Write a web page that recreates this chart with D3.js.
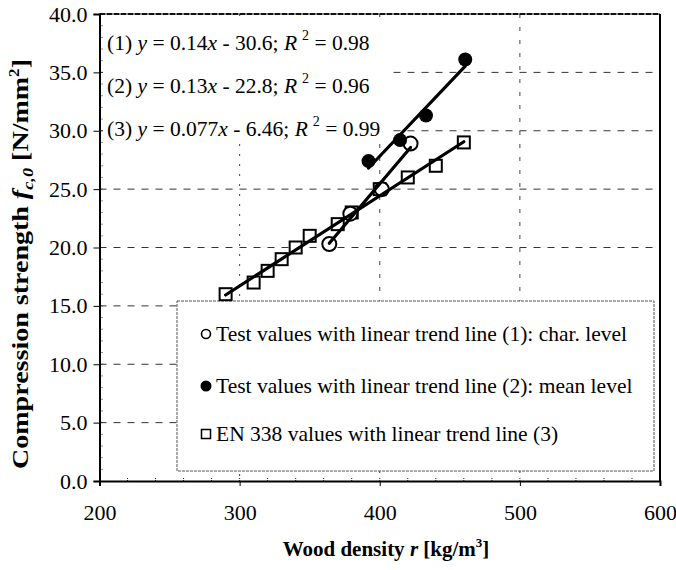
<!DOCTYPE html>
<html><head><meta charset="utf-8">
<script src="https://cdn.jsdelivr.net/npm/d3@7"></script>
<style>body{margin:0;background:#fff}svg{display:block}text{font-family:"Liberation Serif","Times New Roman",serif;fill:#000}</style>
</head><body><svg id="c" width="676" height="570"></svg>
<script>
// ---- data ----
const charX = [364, 379, 401.5, 422];
const charY = [20.3, 22.9, 25.0, 28.9];
const meanX = [392, 414.5, 433, 461];
const meanY = [27.4, 29.2, 31.3, 36.1];
const enX = [290, 310, 320, 330, 340, 350, 370, 380, 400, 420, 440, 460];
const enY = [16, 17, 18, 19, 20, 21, 22, 23, 25, 26, 27, 29];
const xTicks = [200, 300, 400, 500, 600];
const yTicks = [0, 5, 10, 15, 20, 25, 30, 35, 40];
const equations = [
  ["(1) ", "y", " = 0.14", "x", " - 30.6; ", "R", "2", " = 0.98"],
  ["(2) ", "y", " = 0.13", "x", " - 22.8; ", "R", "2", " = 0.96"],
  ["(3) ", "y", " = 0.077", "x", " - 6.46; ", "R", "2", " = 0.99"]
];
const legendLabels = [
  "Test values with linear trend line (1): char. level",
  "Test values with linear trend line (2): mean level",
  "EN 338 values with linear trend line (3)"
];

const svg = d3.select("#c");
const L = 99.5, R = 660, T = 14, B = 481;
const x = d3.scaleLinear().domain([200, 600]).range([L, R]);
const y = d3.scaleLinear().domain([0, 40]).range([B, T]);

// grid
const g = svg.append("g");
g.selectAll(".hg").data(yTicks.filter(d => d > 0 && d < 40)).join("line")
  .attr("x1", L).attr("x2", R).attr("y1", d => y(d)).attr("y2", d => y(d))
  .attr("stroke", "#333").attr("stroke-width", 1).attr("stroke-dasharray", "7,7");
g.selectAll(".vg").data([300, 400, 500]).join("line")
  .attr("y1", T).attr("y2", B).attr("x1", d => x(d)).attr("x2", d => x(d))
  .attr("stroke", "#444").attr("stroke-width", 1).attr("stroke-dasharray", d => d === 300 ? "2,8" : "4,9");

// minor ticks
svg.append("g").selectAll("line").data(d3.range(1, 40)).join("line")
  .attr("x1", L).attr("x2", L + 4).attr("y1", d => y(d)).attr("y2", d => y(d))
  .attr("stroke", "#222").attr("stroke-width", 1).attr("stroke-dasharray", "1,1");
svg.append("g").selectAll("line").data(d3.range(220, 600, 20)).join("line")
  .attr("y1", B).attr("y2", B - 4).attr("x1", d => x(d)).attr("x2", d => x(d))
  .attr("stroke", "#222").attr("stroke-width", 1).attr("stroke-dasharray", "1,1");

// equation text box (white background hides grid)
svg.append("rect").attr("x", 103).attr("y", 17).attr("width", 287).attr("height", 124).attr("fill", "#fff");

// legend box (white, behind data)
const lg = svg.append("g");
lg.append("rect").attr("x", 177).attr("y", 301).attr("width", 477).attr("height", 170)
  .attr("fill", "#fff").attr("stroke", "#555").attr("stroke-width", 1).attr("stroke-dasharray", "3,1");

// frame
svg.append("line").attr("x1", L).attr("x2", R).attr("y1", T).attr("y2", T).attr("stroke", "#111").attr("stroke-width", 2).attr("stroke-dasharray", "6,1");
svg.append("line").attr("x1", R).attr("x2", R).attr("y1", T).attr("y2", B).attr("stroke", "#000").attr("stroke-width", 2);

// axes
const yAxis = svg.append("g").attr("transform", `translate(${L},0)`)
  .call(d3.axisLeft(y).tickValues(yTicks).tickFormat(d3.format(".1f")).tickSize(6).tickPadding(6));
const xAxis = svg.append("g").attr("transform", `translate(0,${B})`)
  .call(d3.axisBottom(x).tickValues(xTicks).tickSize(5).tickPadding(18));
[yAxis, xAxis].forEach(a => {
  a.select(".domain").attr("stroke", "#000").attr("stroke-width", 2);
  a.selectAll(".tick line").attr("stroke", "#000").attr("stroke-width", 1);
  a.selectAll("text").attr("font-family", "Liberation Serif").attr("font-size", 22).attr("fill", "#000");
});

// markers
function zip(a, b) { return a.map((v, i) => [v, b[i]]); }
const enPts = zip(enX, enY), charPts = zip(charX, charY), meanPts = zip(meanX, meanY);

svg.append("g").selectAll("rect").data(enPts).join("rect")
  .attr("x", d => x(d[0]) - 6).attr("y", d => y(d[1]) - 6).attr("width", 12).attr("height", 12)
  .attr("fill", "#fff").attr("stroke", "#000").attr("stroke-width", 2);
svg.append("g").selectAll("circle").data(charPts).join("circle")
  .attr("cx", d => x(d[0])).attr("cy", d => y(d[1])).attr("r", 7)
  .attr("fill", "#fff").attr("stroke", "#000").attr("stroke-width", 2);
svg.append("g").selectAll("circle").data(meanPts).join("circle")
  .attr("cx", d => x(d[0])).attr("cy", d => y(d[1])).attr("r", 7)
  .attr("fill", "#000");

// trend lines (least squares from data)
function fit(pts) {
  const mx = d3.mean(pts, d => d[0]), my = d3.mean(pts, d => d[1]);
  const sxy = d3.sum(pts, d => (d[0] - mx) * (d[1] - my));
  const sxx = d3.sum(pts, d => (d[0] - mx) ** 2);
  const b = sxy / sxx, a = my - b * mx;
  const [x0, x1] = d3.extent(pts, d => d[0]);
  return [[x0, a + b * x0], [x1, a + b * x1]];
}
const line = d3.line().x(d => x(d[0])).y(d => y(d[1]));
[enPts, charPts, meanPts].forEach(p => {
  svg.append("path").attr("d", line(fit(p))).attr("fill", "none")
    .attr("stroke", "#000").attr("stroke-width", 3.2).attr("stroke-linecap", "round");
});

// equations
equations.forEach((parts, i) => {
  const t = svg.append("text").attr("x", 107).attr("y", 50 + i * 43).attr("font-size", 21.5);
  parts.forEach((p, j) => {
    const ts = t.append("tspan").text(p);
    if (j === 1 || j === 3 || j === 5) ts.attr("font-style", "italic");
    if (j === 6) ts.attr("font-size", 14).attr("dy", -10).attr("dx", 5);
    if (j === 7) ts.attr("dy", 10);
  });
});

// legend entries
const ly = [334, 386, 434];
lg.append("circle").attr("cx", 206).attr("cy", ly[0]).attr("r", 4.5).attr("fill", "#fff").attr("stroke", "#000").attr("stroke-width", 1.6);
lg.append("circle").attr("cx", 206).attr("cy", ly[1]).attr("r", 5.5).attr("fill", "#000");
lg.append("rect").attr("x", 201.5).attr("y", ly[2] - 4.5).attr("width", 9).attr("height", 9).attr("fill", "#fff").attr("stroke", "#000").attr("stroke-width", 1.5);
legendLabels.forEach((s, i) => {
  lg.append("text").attr("x", 216).attr("y", ly[i] + 7).attr("font-size", 21.5).text(s);
});

// axis titles
const xt = svg.append("text").attr("x", 386).attr("y", 556).attr("text-anchor", "middle")
  .attr("font-size", 21).attr("font-weight", "bold");
xt.append("tspan").text("Wood density ");
xt.append("tspan").attr("font-style", "italic").text("r");
xt.append("tspan").text("  [kg/m");
xt.append("tspan").attr("font-size", 13).attr("dy", -9).text("3");
xt.append("tspan").attr("dy", 9).text("]");

const yt = svg.append("text").attr("transform", "translate(28,264) rotate(-90)").attr("text-anchor", "middle")
  .attr("font-size", 23).attr("font-weight", "bold")
  .attr("textLength", 410).attr("lengthAdjust", "spacingAndGlyphs");
yt.append("tspan").text("Compression strength ");
yt.append("tspan").attr("font-style", "italic").text("f");
yt.append("tspan").attr("font-style", "italic").attr("font-size", 15).attr("dy", 5).text("c,0");
yt.append("tspan").attr("dy", -5).text(" [N/mm");
yt.append("tspan").attr("font-size", 14).attr("dy", -9).text("2");
yt.append("tspan").attr("dy", 9).text("]");
</script></body></html>
